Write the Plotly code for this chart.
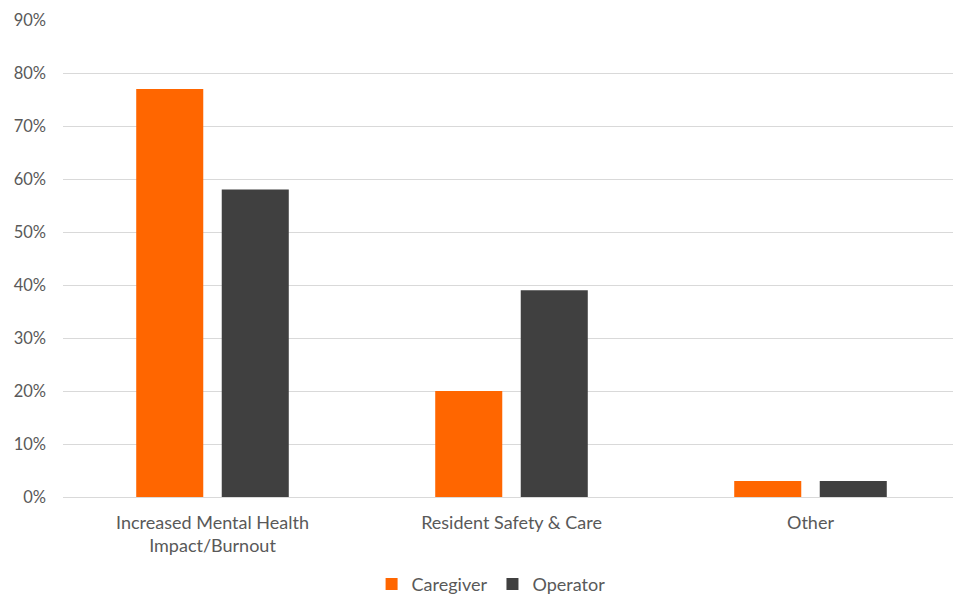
import plotly.graph_objects as go

categories = ["Increased Mental Health<br>Impact/Burnout", "Resident Safety & Care", "Other"]
caregiver = [0.77, 0.20, 0.03]
operator = [0.58, 0.39, 0.03]
y_ticks = [0, 0.1, 0.2, 0.3, 0.4, 0.5, 0.6, 0.7, 0.8, 0.9]
y_tick_labels = ["0%", "10%", "20%", "30%", "40%", "50%", "60%", "70%", "80%", "90%"]

FONT = "Lato, 'Open Sans', sans-serif"
TEXT = "#595959"

fig = go.Figure()
fig.add_trace(go.Bar(name="Caregiver", x=categories, y=caregiver,
                     marker=dict(color="#FF6600", line=dict(width=0))))
fig.add_trace(go.Bar(name="Operator", x=categories, y=operator,
                     marker=dict(color="#404040", line=dict(width=0))))

fig.update_layout(
    width=953, height=594,
    margin=dict(l=63, r=0, t=20, b=97, autoexpand=False),
    paper_bgcolor="white", plot_bgcolor="white",
    barmode="group", bargap=0.428, bargroupgap=0.216,
    font=dict(family=FONT, size=17, color=TEXT),
    showlegend=True,
    legend=dict(orientation="h", x=0.481, xanchor="center", y=-0.183, yanchor="middle",
                font=dict(size=18, color=TEXT), itemwidth=30, traceorder="normal"),
    xaxis=dict(range=[-0.5, -0.5 + 890 / 299], showgrid=False, showline=False,
               zeroline=False, ticks="", automargin=False, ticklabelstandoff=13,
               tickfont=dict(size=18, color=TEXT)),
    yaxis=dict(range=[0, 0.9], tickvals=y_ticks, ticktext=y_tick_labels,
               showgrid=True, gridcolor="#D9D9D9", gridwidth=1,
               zeroline=True, zerolinecolor="#D9D9D9", zerolinewidth=1,
               showline=False, ticks="", ticklabelstandoff=16, automargin=False,
               tickfont=dict(size=16.5, color=TEXT)),
)

fig.write_html("out.html")
